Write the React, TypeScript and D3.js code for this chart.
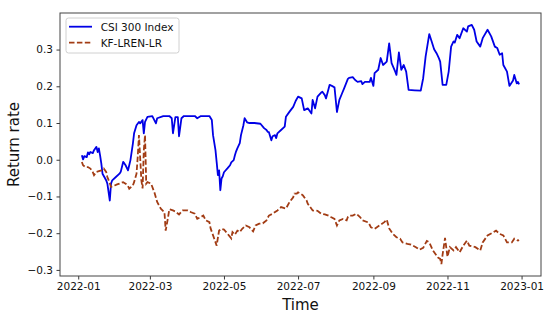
import React, { useEffect, useRef } from "react";
import * as d3 from "d3";

// CSI 300 index cumulative return
const csiDates = [
  "2022-01-04", "2022-01-05", "2022-01-06", "2022-01-08", "2022-01-09", "2022-01-10", "2022-01-11",
  "2022-01-13", "2022-01-14", "2022-01-16", "2022-01-17", "2022-01-18", "2022-01-19", "2022-01-20",
  "2022-01-21", "2022-01-24", "2022-01-25", "2022-01-27", "2022-01-28", "2022-01-29", "2022-02-01",
  "2022-02-04", "2022-02-05", "2022-02-07", "2022-02-08", "2022-02-09", "2022-02-11", "2022-02-12",
  "2022-02-13", "2022-02-15", "2022-02-16", "2022-02-18", "2022-02-20", "2022-02-21", "2022-02-23",
  "2022-02-24", "2022-02-25", "2022-02-27", "2022-03-03", "2022-03-06", "2022-03-07", "2022-03-12",
  "2022-03-17", "2022-03-19", "2022-03-20", "2022-03-22", "2022-03-24", "2022-03-25", "2022-03-27",
  "2022-03-29", "2022-04-07", "2022-04-09", "2022-04-12", "2022-04-19", "2022-04-21", "2022-04-22",
  "2022-04-24", "2022-04-25", "2022-04-26", "2022-04-27", "2022-04-28", "2022-04-29", "2022-04-30",
  "2022-05-01", "2022-05-04", "2022-05-06", "2022-05-07", "2022-05-09", "2022-05-10", "2022-05-11",
  "2022-05-12", "2022-05-14", "2022-05-15", "2022-05-17", "2022-05-18", "2022-05-20", "2022-05-22",
  "2022-05-26", "2022-05-31", "2022-06-03", "2022-06-05", "2022-06-06", "2022-06-07", "2022-06-09",
  "2022-06-10", "2022-06-12", "2022-06-13", "2022-06-14", "2022-06-17", "2022-06-20", "2022-06-21",
  "2022-06-24", "2022-06-27", "2022-06-29", "2022-07-01", "2022-07-04", "2022-07-06", "2022-07-09",
  "2022-07-12", "2022-07-13", "2022-07-15", "2022-07-17", "2022-07-20", "2022-07-21", "2022-07-23",
  "2022-07-24", "2022-07-27", "2022-07-30", "2022-07-31", "2022-08-02", "2022-08-04", "2022-08-06",
  "2022-08-08", "2022-08-11", "2022-08-12", "2022-08-15", "2022-08-17", "2022-08-19", "2022-08-22",
  "2022-08-23", "2022-08-25", "2022-08-29", "2022-08-30", "2022-09-01", "2022-09-02", "2022-09-05",
  "2022-09-07", "2022-09-09", "2022-09-12", "2022-09-14", "2022-09-16", "2022-09-19", "2022-09-20",
  "2022-09-22", "2022-09-24", "2022-09-26", "2022-09-28", "2022-09-30", "2022-10-05", "2022-10-10",
  "2022-10-12", "2022-10-14", "2022-10-17", "2022-10-19", "2022-10-21", "2022-10-23", "2022-10-25",
  "2022-10-26", "2022-10-28", "2022-10-31", "2022-11-02", "2022-11-04", "2022-11-06", "2022-11-07",
  "2022-11-09", "2022-11-11", "2022-11-14", "2022-11-17", "2022-11-18", "2022-11-21", "2022-11-23",
  "2022-11-25", "2022-11-28", "2022-11-30", "2022-12-04", "2022-12-07", "2022-12-10", "2022-12-12",
  "2022-12-14", "2022-12-16", "2022-12-17", "2022-12-20", "2022-12-22", "2022-12-25", "2022-12-26",
  "2022-12-28", "2022-12-29", "2022-12-30",
];
const csiValues = [
  0.012, 0.001, 0.010, 0.007, 0.020, 0.015, 0.021,
  0.018, 0.026, 0.035, 0.021, 0.031, 0.012, -0.010,
  -0.038, -0.056, -0.065, -0.111, -0.065, -0.056, -0.047,
  -0.038, -0.033, -0.006, -0.010, -0.015, -0.029, -0.015,
  -0.001, 0.044, 0.072, 0.094, 0.103, 0.099, 0.108,
  0.072, 0.103, 0.117, 0.119, 0.099, 0.113, 0.119,
  0.119, 0.113, 0.072, 0.116, 0.116, 0.064, 0.113,
  0.119, 0.119, 0.113, 0.119, 0.119, 0.108, 0.067,
  0.026, -0.007, -0.042, -0.029, -0.083, -0.051, -0.045,
  -0.034, -0.023, -0.015, -0.007, -0.001, 0.012, 0.023,
  0.031, 0.045, 0.067, 0.094, 0.113, 0.102, 0.100,
  0.100, 0.098, 0.086, 0.081, 0.076, 0.075, 0.053,
  0.064, 0.067, 0.059, 0.072, 0.081, 0.090, 0.117,
  0.131, 0.144, 0.160, 0.172, 0.167, 0.135, 0.140,
  0.126, 0.163, 0.140, 0.172, 0.183, 0.185, 0.176,
  0.167, 0.204, 0.199, 0.197, 0.130, 0.163, 0.179,
  0.195, 0.220, 0.223, 0.225, 0.217, 0.212, 0.214,
  0.206, 0.212, 0.212, 0.223, 0.201, 0.236, 0.245,
  0.277, 0.258, 0.267, 0.317, 0.263, 0.240, 0.231,
  0.292, 0.245, 0.258, 0.240, 0.190, 0.189, 0.188,
  0.222, 0.281, 0.342, 0.322, 0.301, 0.290, 0.276,
  0.267, 0.204, 0.204, 0.240, 0.308, 0.322, 0.319,
  0.340, 0.331, 0.358, 0.349, 0.363, 0.367, 0.354,
  0.322, 0.308, 0.331, 0.354, 0.336, 0.308, 0.304,
  0.286, 0.290, 0.258, 0.240, 0.201, 0.216, 0.231,
  0.208, 0.212, 0.205,
];

// KF-LREN-LR strategy cumulative return
const kfDates = [
  "2022-01-04", "2022-01-05", "2022-01-07", "2022-01-09", "2022-01-11", "2022-01-13", "2022-01-14",
  "2022-01-16", "2022-01-18", "2022-01-20", "2022-01-21", "2022-01-22", "2022-01-24", "2022-01-25",
  "2022-01-27", "2022-01-28", "2022-01-31", "2022-02-02", "2022-02-04", "2022-02-07", "2022-02-09",
  "2022-02-11", "2022-02-12", "2022-02-15", "2022-02-16", "2022-02-18", "2022-02-19", "2022-02-20",
  "2022-02-22", "2022-02-23", "2022-02-24", "2022-02-25", "2022-02-26", "2022-02-27", "2022-03-02",
  "2022-03-05", "2022-03-07", "2022-03-10", "2022-03-13", "2022-03-14", "2022-03-16", "2022-03-17",
  "2022-03-20", "2022-03-22", "2022-03-25", "2022-03-28", "2022-03-30", "2022-04-01", "2022-04-04",
  "2022-04-07", "2022-04-09", "2022-04-12", "2022-04-14", "2022-04-16", "2022-04-19", "2022-04-20",
  "2022-04-23", "2022-04-25", "2022-04-26", "2022-04-27", "2022-04-29", "2022-05-01", "2022-05-04",
  "2022-05-07", "2022-05-08", "2022-05-10", "2022-05-12", "2022-05-14", "2022-05-16", "2022-05-19",
  "2022-05-22", "2022-05-25", "2022-05-27", "2022-05-30", "2022-06-02", "2022-06-05", "2022-06-07",
  "2022-06-10", "2022-06-14", "2022-06-17", "2022-06-21", "2022-06-24", "2022-06-27", "2022-06-28",
  "2022-06-30", "2022-07-01", "2022-07-03", "2022-07-05", "2022-07-08", "2022-07-09", "2022-07-10",
  "2022-07-13", "2022-07-17", "2022-07-20", "2022-07-23", "2022-07-26", "2022-07-28", "2022-07-31",
  "2022-08-02", "2022-08-04", "2022-08-07", "2022-08-10", "2022-08-11", "2022-08-12", "2022-08-15",
  "2022-08-18", "2022-08-21", "2022-08-23", "2022-08-28", "2022-08-30", "2022-09-02", "2022-09-06",
  "2022-09-10", "2022-09-12", "2022-09-14", "2022-09-17", "2022-09-20", "2022-09-23", "2022-09-25",
  "2022-09-29", "2022-10-02", "2022-10-06", "2022-10-09", "2022-10-12", "2022-10-15", "2022-10-17",
  "2022-10-20", "2022-10-23", "2022-10-24", "2022-10-26", "2022-10-27", "2022-10-28", "2022-10-30",
  "2022-11-01", "2022-11-03", "2022-11-06", "2022-11-08", "2022-11-11", "2022-11-14", "2022-11-17",
  "2022-11-19", "2022-11-24", "2022-11-28", "2022-11-30", "2022-12-04", "2022-12-09", "2022-12-11",
  "2022-12-14", "2022-12-17", "2022-12-20", "2022-12-24", "2022-12-26", "2022-12-29", "2022-12-30",
];
const kfValues = [
  -0.006, -0.015, -0.020, -0.020, -0.024, -0.034, -0.042,
  -0.033, -0.031, -0.029, -0.026, -0.024, -0.033, -0.047,
  -0.064, -0.074, -0.070, -0.067, -0.065, -0.061, -0.065,
  -0.072, -0.079, -0.070, -0.061, -0.038, 0.008, 0.067,
  -0.056, -0.078, 0.026, 0.067, -0.065, -0.061, -0.065,
  -0.092, -0.115, -0.133, -0.143, -0.193, -0.156, -0.135,
  -0.138, -0.141, -0.149, -0.138, -0.138, -0.138, -0.143,
  -0.147, -0.161, -0.156, -0.152, -0.165, -0.170, -0.187,
  -0.215, -0.234, -0.212, -0.193, -0.188, -0.190, -0.202,
  -0.214, -0.197, -0.204, -0.193, -0.197, -0.188, -0.179,
  -0.184, -0.195, -0.179, -0.174, -0.173, -0.165, -0.152,
  -0.147, -0.138, -0.129, -0.133, -0.115, -0.102, -0.092,
  -0.092, -0.089, -0.092, -0.097, -0.111, -0.120, -0.124,
  -0.138, -0.139, -0.147, -0.149, -0.152, -0.156, -0.161,
  -0.179, -0.165, -0.161, -0.165, -0.156, -0.152, -0.152,
  -0.147, -0.156, -0.165, -0.171, -0.184, -0.188, -0.179,
  -0.170, -0.163, -0.187, -0.202, -0.211, -0.215, -0.225,
  -0.229, -0.231, -0.238, -0.245, -0.240, -0.221, -0.225,
  -0.247, -0.261, -0.266, -0.270, -0.284, -0.258, -0.213,
  -0.264, -0.238, -0.247, -0.238, -0.252, -0.234, -0.220,
  -0.234, -0.238, -0.247, -0.225, -0.206, -0.197, -0.193,
  -0.202, -0.206, -0.225, -0.225, -0.215, -0.220, -0.219,
];

const seriesNames = ["CSI 300 Index", "KF-LREN-LR"];
const seriesColors = ["#0000e6", "#a23c14"];
const yTicks = [-0.3, -0.2, -0.1, 0.0, 0.1, 0.2, 0.3];
const xTicks = ["2022-01", "2022-03", "2022-05", "2022-07", "2022-09", "2022-11", "2023-01"];

const W = 550;
const H = 325;
const FONT = "DejaVu Sans, sans-serif";

const App = () => {
  const ref = useRef<SVGSVGElement>(null);

  useEffect(() => {
    const margin = { top: 13, right: 9, bottom: 49, left: 60 };
    const innerW = W - margin.left - margin.right;
    const innerH = H - margin.top - margin.bottom;

    const parse = d3.timeParse("%Y-%m-%d");
    const parseMonth = d3.timeParse("%Y-%m");
    const csi = csiDates.map((d, i) => ({ date: parse(d)!, value: csiValues[i] }));
    const kf = kfDates.map((d, i) => ({ date: parse(d)!, value: kfValues[i] }));

    // matplotlib-like 5% padding around the data
    const allDates = [...csi, ...kf].map((d) => +d.date);
    const allVals = [...csiValues, ...kfValues];
    const [t0, t1] = d3.extent(allDates) as [number, number];
    const [v0, v1] = d3.extent(allVals) as [number, number];
    const tPad = (t1 - t0) * 0.05;
    const vPad = (v1 - v0) * 0.05;

    const x = d3
      .scaleTime()
      .domain([new Date(t0 - tPad), new Date(t1 + tPad)])
      .range([0, innerW]);
    const y = d3
      .scaleLinear()
      .domain([v0 - vPad, v1 + vPad])
      .range([innerH, 0]);

    const svg = d3.select(ref.current);
    svg.selectAll("*").remove();
    svg.append("rect").attr("width", W).attr("height", H).attr("fill", "#fff");

    const g = svg.append("g").attr("transform", `translate(${margin.left},${margin.top})`);

    // series
    const lineGen = d3
      .line<{ date: Date; value: number }>()
      .x((d) => x(d.date))
      .y((d) => y(d.value));

    g.append("path")
      .datum(csi)
      .attr("d", lineGen)
      .attr("fill", "none")
      .attr("stroke", seriesColors[0])
      .attr("stroke-width", 1.8)
      .attr("stroke-linejoin", "round");

    g.append("path")
      .datum(kf)
      .attr("d", lineGen)
      .attr("fill", "none")
      .attr("stroke", seriesColors[1])
      .attr("stroke-width", 1.8)
      .attr("stroke-dasharray", "5.5,2.4");

    // axes
    const fmtY = (v: number) => d3.format(".1f")(v).replace("-", "\u2212");
    const xAxis = g
      .append("g")
      .attr("transform", `translate(0,${innerH})`)
      .call(
        d3
          .axisBottom(x)
          .tickValues(xTicks.map((m) => parseMonth(m)!))
          .tickFormat((d) => d3.timeFormat("%Y-%m")(d as Date))
          .tickSize(3.5)
          .tickPadding(3.5)
      );
    const yAxis = g
      .append("g")
      .call(d3.axisLeft(y).tickValues(yTicks).tickFormat((d) => fmtY(+d)).tickSize(3.5).tickPadding(3.5));

    [xAxis, yAxis].forEach((ax) => {
      ax.select(".domain").remove();
      ax.selectAll(".tick line").attr("stroke", "#222").attr("stroke-width", 0.9);
      ax.selectAll(".tick text")
        .attr("fill", "#111")
        .attr("font-family", FONT)
        .attr("font-size", 10.5);
    });

    // frame
    g.append("rect")
      .attr("x", 0)
      .attr("y", 0)
      .attr("width", innerW)
      .attr("height", innerH)
      .attr("fill", "none")
      .attr("stroke", "#444")
      .attr("stroke-width", 1);

    // axis labels
    svg
      .append("text")
      .attr("x", margin.left + innerW / 2)
      .attr("y", 310)
      .attr("text-anchor", "middle")
      .attr("font-family", FONT)
      .attr("font-size", 15)
      .attr("fill", "#111")
      .text("Time");

    svg
      .append("text")
      .attr("transform", `translate(19,${margin.top + innerH / 2}) rotate(-90)`)
      .attr("text-anchor", "middle")
      .attr("font-family", FONT)
      .attr("font-size", 15)
      .attr("fill", "#111")
      .text("Return rate");

    // legend
    const lg = g.append("g").attr("transform", "translate(6,5)");
    lg.append("rect")
      .attr("width", 113)
      .attr("height", 35)
      .attr("rx", 2.5)
      .attr("fill", "#fff")
      .attr("fill-opacity", 0.8)
      .attr("stroke", "#d0d0d0")
      .attr("stroke-width", 1);
    seriesNames.forEach((name, i) => {
      const cy = 8.7 + i * 16;
      lg.append("line")
        .attr("x1", 3)
        .attr("x2", 26)
        .attr("y1", cy)
        .attr("y2", cy)
        .attr("stroke", seriesColors[i])
        .attr("stroke-width", 1.8)
        .attr("stroke-dasharray", i === 1 ? "5.5,2.4" : null);
      lg.append("text")
        .attr("x", 34.7)
        .attr("y", cy + 3.8)
        .attr("font-family", FONT)
        .attr("font-size", 10.5)
        .attr("fill", "#111")
        .text(name);
    });
  }, []);

  return (
    <svg
      ref={ref}
      width={W}
      height={H}
      style={{ position: "absolute", left: 0, top: 0, display: "block" }}
    />
  );
};

export default App;
